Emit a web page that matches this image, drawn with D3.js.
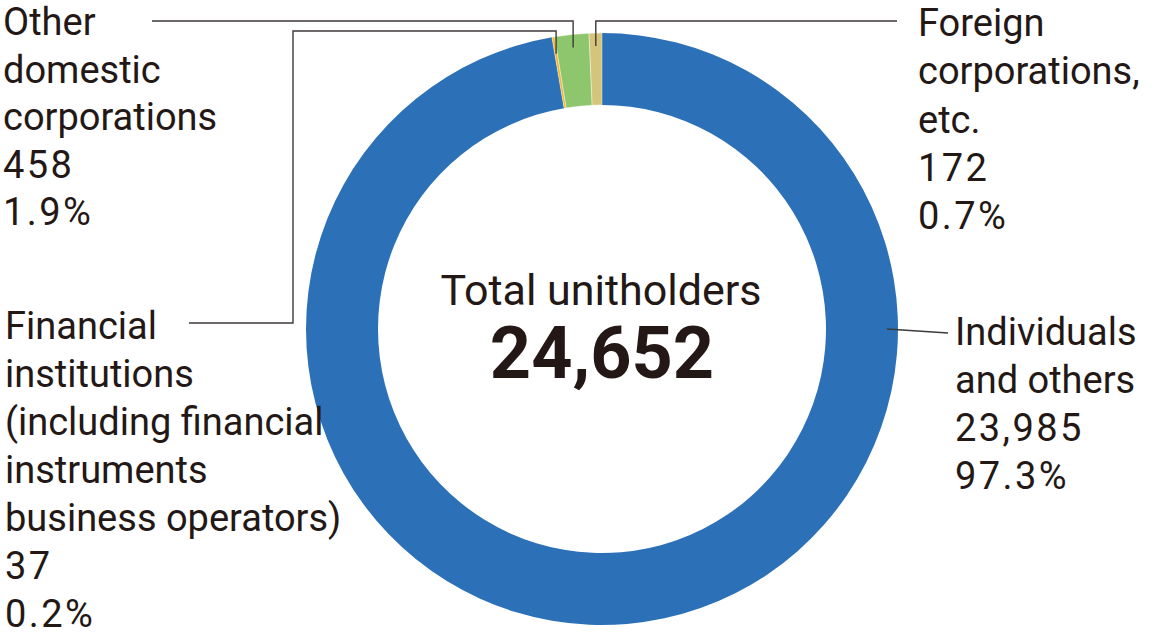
<!DOCTYPE html>
<html>
<head>
<meta charset="utf-8">
<script src="https://cdn.jsdelivr.net/npm/d3@7"></script>
<style>
  body { margin: 0; background: #fff; }
  svg { display: block; font-family: Roboto, sans-serif; }
</style>
</head>
<body>
<div id="chart"></div>
<script>
// data
var categories = ["Individuals and others", "Financial institutions", "Other domestic corporations", "Foreign corporations, etc."]
var holders = [23985, 37, 458, 172]
var shares = ["97.3%", "0.2%", "1.9%", "0.7%"]
var labelLines = [
    ["Individuals", "and others"],
    ["Financial", "institutions", "(including financial", "instruments", "business operators)"],
    ["Other", "domestic", "corporations"],
    ["Foreign", "corporations,", "etc."]
]
var totalLabel = "Total unitholders"
var colors = ["#2c71b8", "#f7b52c", "#8dc66d", "#d5c57a"]

var width = 1160, height = 640
var cx = 602, cy = 329
var outerR = 296, innerR = 224
var textColor = "#231815"
var lineColor = "#3e3a39"

// where each label block sits and how its leader line bends
var layout = [
    {x: 955, y: 345, lh: 48, anchorAngle: Math.PI / 2, anchorR: 285, bends: function(a) { return [a, [948, 333]] }},
    {x: 5, y: 339, lh: 48, anchorR: 279, bends: function(a) { return [a, [a[0], 31], [293, 31], [293, 323], [189, 323]] }},
    {x: 3, y: 35, lh: 47.6, anchorR: 283, bends: function(a) { return [a, [a[0], 21], [152, 21]] }},
    {x: 918, y: 36, lh: 48.3, anchorR: 283, bends: function(a) { return [a, [a[0], 21], [897, 21]] }}
]

var svg = d3.select("#chart")
    .append("svg")
    .attr("width", width)
    .attr("height", height)

var pie = d3.pie()
    .sort(null)
    .value(function(d) { return d })

var arcs = pie(holders)

var arc = d3.arc()
    .innerRadius(innerR)
    .outerRadius(outerR)

var ring = svg.append("g")
    .attr("transform", "translate(" + cx + "," + cy + ")")

ring.selectAll("path")
    .data(arcs)
    .enter()
    .append("path")
    .attr("d", arc)
    .attr("fill", function(d, i) { return colors[i] })
    .attr("stroke", function(d, i) { return i == 0 ? "none" : "#fff" })
    .attr("stroke-width", 0.4)

// leader lines
var line = d3.line()

svg.append("g")
    .selectAll("path")
    .data(arcs)
    .enter()
    .append("path")
    .attr("d", function(d, i) {
        var L = layout[i]
        var a = L.anchorAngle !== undefined ? L.anchorAngle : (d.startAngle + d.endAngle) / 2
        var p = [cx + L.anchorR * Math.sin(a), cy - L.anchorR * Math.cos(a)]
        return line(L.bends(p))
    })
    .attr("fill", "none")
    .attr("stroke", lineColor)
    .attr("stroke-width", 1.4)

// label blocks
var labels = svg.append("g")
    .attr("fill", textColor)
    .attr("font-size", 38)

categories.forEach(function(c, i) {
    var L = layout[i]
    var nText = labelLines[i].length
    var rows = labelLines[i].concat([d3.format(",")(holders[i]), shares[i]])
    var t = labels.append("text")
        .attr("x", L.x)
        .attr("y", L.y)
    t.selectAll("tspan")
        .data(rows)
        .enter()
        .append("tspan")
        .attr("x", L.x)
        .attr("y", function(r, j) { return L.y + j * L.lh })
        .attr("letter-spacing", function(r, j) { return j >= nText ? 2.4 : 0 })
        .text(function(r) { return r })
})

// centre total
svg.append("text")
    .attr("x", cx - 1)
    .attr("y", 305)
    .attr("text-anchor", "middle")
    .attr("font-size", 43)
    .attr("fill", textColor)
    .text(totalLabel)

svg.append("text")
    .attr("x", cx)
    .attr("y", 378)
    .attr("text-anchor", "middle")
    .attr("font-size", 72)
    .attr("font-weight", "bold")
    .attr("fill", textColor)
    .text(d3.format(",")(d3.sum(holders)))
</script>
</body>
</html>
